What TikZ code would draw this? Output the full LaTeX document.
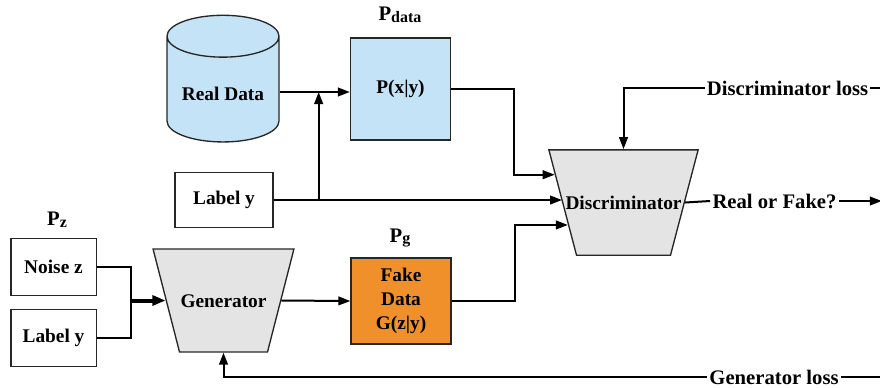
\documentclass[tikz,border=0pt]{standalone}
\usepackage{fontspec}
\setmainfont{Liberation Serif}
\usetikzlibrary{positioning,calc,arrows.meta,shapes.geometric}
\definecolor{realtint}{HTML}{C5E3F6}
\definecolor{fakefill}{HTML}{F0902A}
\definecolor{netgray}{HTML}{E4E4E4}
\newcommand{\sub}[1]{\raisebox{-0.2ex}{\fontsize{12}{12}\selectfont #1}}

\begin{document}
\begin{tikzpicture}[x=0.75pt,y=-0.75pt,font=\fontsize{14.5}{18}\selectfont\bfseries,line width=1.5pt,
  bx/.style={draw=black!85,line width=1pt,align=center,inner sep=2pt},
  net/.style={trapezium,shape border rotate=180,draw=black!85,line width=1pt,fill=netgray,
    text height=10pt,text depth=0pt},
  db/.style={cylinder,shape border rotate=90,aspect=0.46,draw=black!85,line width=1pt,fill=realtint},
  tag/.style={inner sep=1pt,font=\fontsize{15.5}{18}\selectfont\bfseries},
  arr/.style={-{Triangle[length=9pt,width=6.5pt]}}]
  \useasboundingbox (0,0) rectangle (880,387);
  % real branch
  \node[db,minimum width=84pt,minimum height=95pt] (real) at (223,93.5) {Real Data};
  \node[bx,fill=realtint,minimum width=75pt,minimum height=76.5pt] (pxy) at (400.5,89) {P(x|y)};
  \node[tag] (pdata) at (400,15) {P\sub{data}};
  \node[bx,minimum width=73.5pt,minimum height=41pt] (labtop) at (224,200) {Label y};
  % generator branch
  \node[tag] (pz) at (57,220) {P\sub{z}};
  \node[bx,minimum width=64pt,minimum height=43pt] (noise) at (53.5,267) {Noise z};
  \node[bx,minimum width=64pt,minimum height=43pt] (lablow) at (53.5,338) {Label y};
  \node[net,trapezium angle=75.6,inner xsep=33pt,inner ysep=33.6pt] (gen) at (223.5,300.5)
    {\makebox[0pt]{Generator}};
  \node[bx,fill=fakefill,minimum width=75pt,minimum height=64.5pt] (fake) at (401,301) {Fake\\Data\\G(z|y)};
  \node[tag] (pg) at (400,238) {P\sub{g}};
  % discriminator
  \node[net,trapezium angle=75.3,inner xsep=35.25pt,inner ysep=34.5pt] (disc) at (623.5,202.5)
    {\makebox[0pt]{Discriminator}};
  \node[tag] (dloss) at (787.5,88) {Discriminator loss};
  \node[tag] (rof) at (774.5,201) {Real or Fake?};
  \node[tag] (gloss) at (774,377) {Generator loss};
  \coordinate[right=45*0.75pt of labtop.east] (split);
  \coordinate[left=35*0.75pt of gen.west] (merge);
  % connectors
  \draw[arr] (real.east |- 0,92) -- (pxy.west |- 0,92);
  \draw[arr] (split) -- (split |- 0,92);
  \draw[arr] (labtop.east) -- (labtop.east -| disc.west);
  \draw[arr] (pxy.east) -- ++(63,0) |- (disc.158);
  \draw[arr] (fake.east) -- ++(63,0) |- (disc.202);
  \draw (noise.east) -| (merge);
  \draw (lablow.east) -| (merge);
  \draw[-{Triangle[length=10pt,width=7.5pt]},line width=3pt] (merge) -- (gen.west);
  \draw[arr] (gen.east) -- (fake.west);
  \draw[arr] (dloss.west) -| (disc.north);
  \draw (dloss.east) -- ++(14,0);
  \draw (disc.east) -- (rof.west);
  \draw[arr] (rof.east) -- ++(43,0);
  \draw[arr] (gloss.west) -| (gen.south);
  \draw (gloss.east) -- ++(43,0);
\end{tikzpicture}
\end{document}
